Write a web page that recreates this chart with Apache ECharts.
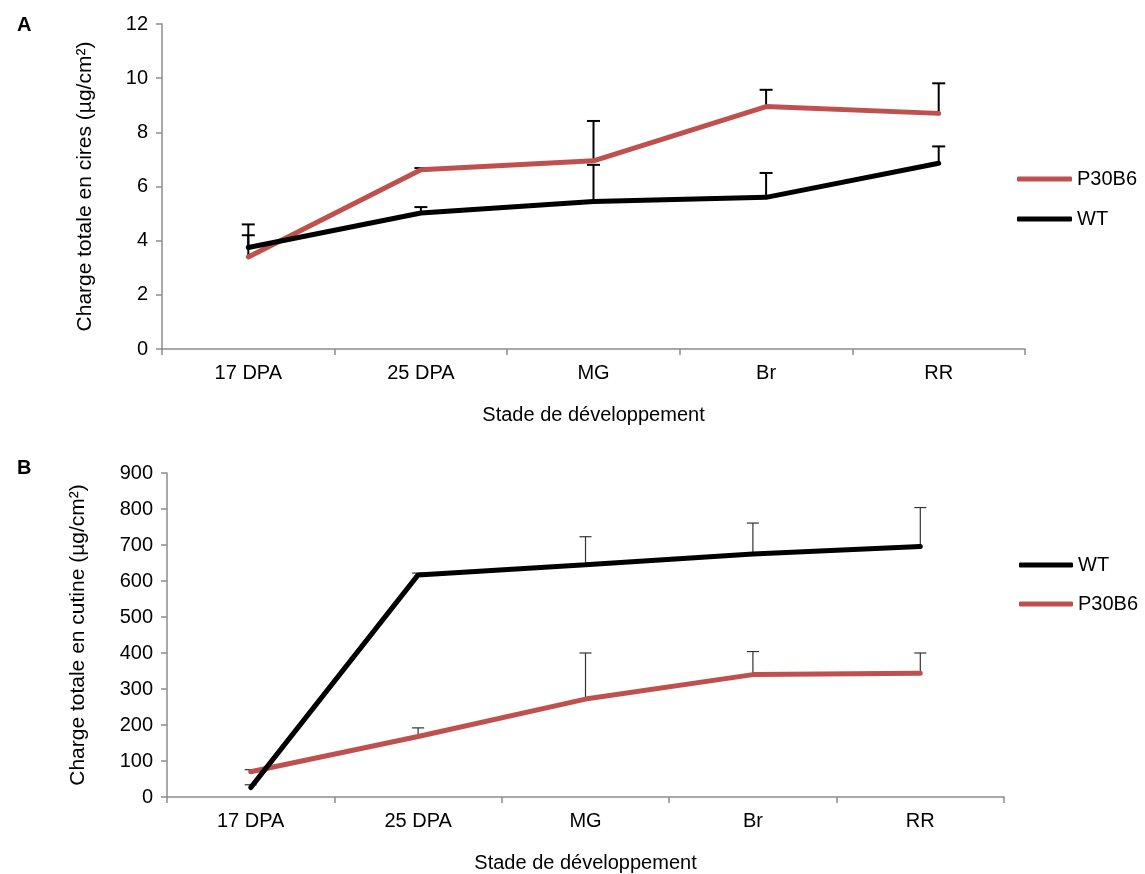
<!DOCTYPE html>
<html>
<head>
<meta charset="utf-8">
<script src="https://cdn.jsdelivr.net/npm/echarts@6/dist/echarts.min.js"></script>
<style>
html,body{margin:0;padding:0;background:#fff;}
#c{width:1145px;height:874px;}
</style>
</head>
<body>
<div id="c"></div>
<script>
// ---- data ----
const categories = ['17 DPA', '25 DPA', 'MG', 'Br', 'RR'];
// Panel A: waxes (µg/cm²)
const waxP30B6 = [3.4, 6.62, 6.95, 8.95, 8.7];
const waxP30B6Err = [0.8, 0.06, 1.47, 0.62, 1.11];
const waxWT = [3.75, 5.02, 5.45, 5.6, 6.86];
const waxWTErr = [0.85, 0.22, 1.35, 0.9, 0.62];
// Panel B: cutin (µg/cm²)
const cutWT = [26, 617, 645, 675, 696];
const cutWTErr = [8, 5, 78, 86, 108];
const cutP30B6 = [70, 168, 272, 340, 344];
const cutP30B6Err = [6, 24, 128, 64, 56];
const yTicksA = {min: 0, max: 12, interval: 2};
const yTicksB = {min: 0, max: 900, interval: 100};

const RED = '#C0504D';
const BLACK = '#000000';
const AXIS = '#8c8c8c';
const FONT = 'Liberation Sans, Arial, sans-serif';

function errData(vals, errs) {
  return vals.map((v, i) => [i, v, errs[i]]);
}
function errRender(color, width, capW) {
  return function (params, api) {
    const x = api.value(0), v = api.value(1), e = api.value(2);
    const p0 = api.coord([x, v]);
    const p1 = api.coord([x, v + e]);
    return {
      type: 'group',
      children: [
        {type: 'line', shape: {x1: p0[0], y1: p0[1], x2: p1[0], y2: p1[1]}, style: {stroke: color, lineWidth: width}},
        {type: 'line', shape: {x1: p1[0] - capW / 2, y1: p1[1], x2: p1[0] + capW / 2, y2: p1[1]}, style: {stroke: color, lineWidth: width}}
      ]
    };
  };
}

function xAxis(gridIndex) {
  return {
    type: 'category', gridIndex: gridIndex, data: categories, boundaryGap: true,
    axisLine: {lineStyle: {color: AXIS, width: 1.5}},
    axisTick: {show: true, length: 6, lineStyle: {color: AXIS, width: 1.5}},
    axisLabel: {color: '#000', fontSize: 20, fontFamily: FONT, margin: 14},
    name: 'Stade de développement', nameLocation: 'middle', nameGap: 56,
    nameTextStyle: {color: '#000', fontSize: 20, fontFamily: FONT}
  };
}
function yAxis(gridIndex, t, name, gap) {
  return {
    type: 'value', gridIndex: gridIndex, min: t.min, max: t.max, interval: t.interval,
    splitLine: {show: false},
    axisLine: {show: true, lineStyle: {color: AXIS, width: 1.5}},
    axisTick: {show: true, length: 6, lineStyle: {color: AXIS, width: 1.5}},
    axisLabel: {color: '#000', fontSize: 20, fontFamily: FONT, margin: 14},
    name: name, nameLocation: 'middle', nameGap: gap, nameRotate: 90,
    nameTextStyle: {color: '#000', fontSize: 21, fontFamily: FONT}
  };
}

const chart = echarts.init(document.getElementById('c'), null, {renderer: 'canvas'});
chart.setOption({
  backgroundColor: '#fff',
  animation: false,
  title: [
    {text: 'A', left: 12, top: 10, textStyle: {fontSize: 20, fontWeight: 'bold', color: '#000', fontFamily: FONT}},
    {text: 'B', left: 12, top: 453, textStyle: {fontSize: 20, fontWeight: 'bold', color: '#000', fontFamily: FONT}}
  ],
  grid: [
    {left: 162, top: 24, width: 863, height: 325},
    {left: 167, top: 473, width: 837, height: 324}
  ],
  xAxis: [xAxis(0), xAxis(1)],
  yAxis: [
    yAxis(0, yTicksA, 'Charge totale en cires (µg/cm²)', 66),
    yAxis(1, yTicksB, 'Charge totale en cutine (µg/cm²)', 78)
  ],
  legend: [
    {data: ['P30B6', 'WT'], orient: 'vertical', left: 1017, top: 169, padding: 0, itemWidth: 55, itemHeight: 5,
     icon: 'roundRect', itemGap: 20, textStyle: {fontSize: 20, color: '#000', fontFamily: FONT}},
    {data: ['WT', 'P30B6'], orient: 'vertical', left: 1019, top: 555, padding: 0, itemWidth: 54, itemHeight: 5,
     icon: 'roundRect', itemGap: 19, textStyle: {fontSize: 20, color: '#000', fontFamily: FONT}}
  ],
  series: [
    {type: 'custom', name: 'errA_WT', xAxisIndex: 0, yAxisIndex: 0, data: errData(waxWT, waxWTErr),
     renderItem: errRender('#000', 2, 13), encode: {x: 0, y: 1}, z: 3},
    {type: 'custom', name: 'errA_P30', xAxisIndex: 0, yAxisIndex: 0, data: errData(waxP30B6, waxP30B6Err),
     renderItem: errRender('#000', 2, 13), encode: {x: 0, y: 1}, z: 3},
    {type: 'line', name: 'P30B6', xAxisIndex: 0, yAxisIndex: 0, data: waxP30B6, symbol: 'none',
     lineStyle: {color: RED, width: 5, cap: 'round'}, itemStyle: {color: RED}, z: 4},
    {type: 'line', name: 'WT', xAxisIndex: 0, yAxisIndex: 0, data: waxWT, symbol: 'none',
     lineStyle: {color: BLACK, width: 5, cap: 'round'}, itemStyle: {color: BLACK}, z: 5},

    {type: 'custom', name: 'errB_WT', xAxisIndex: 1, yAxisIndex: 1, data: errData(cutWT, cutWTErr),
     renderItem: errRender('#333', 1.2, 12), encode: {x: 0, y: 1}, z: 3},
    {type: 'custom', name: 'errB_P30', xAxisIndex: 1, yAxisIndex: 1, data: errData(cutP30B6, cutP30B6Err),
     renderItem: errRender('#333', 1.2, 12), encode: {x: 0, y: 1}, z: 3},
    {type: 'line', name: 'WT', xAxisIndex: 1, yAxisIndex: 1, data: cutWT, symbol: 'none',
     lineStyle: {color: BLACK, width: 5, cap: 'round'}, itemStyle: {color: BLACK}, z: 5},
    {type: 'line', name: 'P30B6', xAxisIndex: 1, yAxisIndex: 1, data: cutP30B6, symbol: 'none',
     lineStyle: {color: RED, width: 5, cap: 'round'}, itemStyle: {color: RED}, z: 4}
  ]
});
</script>
</body>
</html>
